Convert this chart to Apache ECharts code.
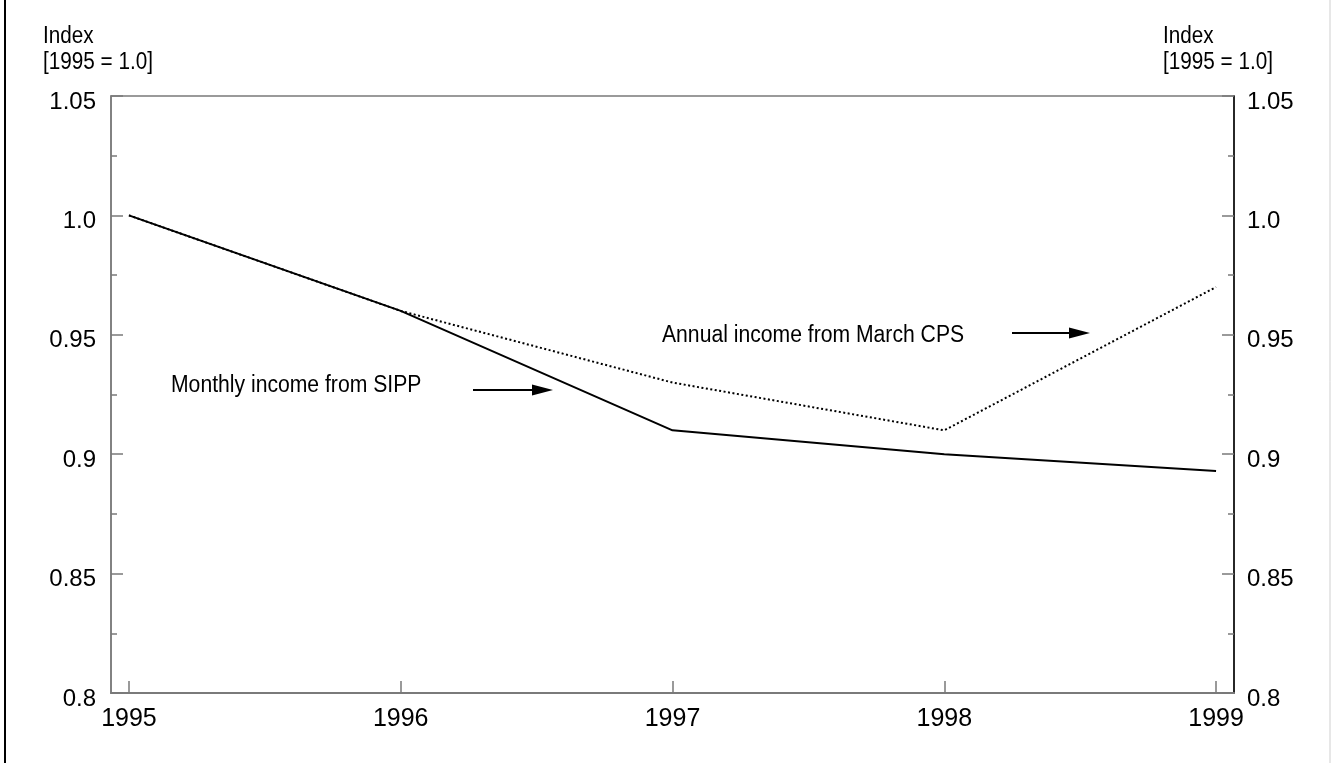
<!DOCTYPE html>
<html>
<head>
<meta charset="utf-8">
<style>
  html, body { margin: 0; padding: 0; background: #fff; }
  #chart { width: 1331px; height: 763px; }
</style>
<script src="https://cdn.jsdelivr.net/npm/echarts@6/dist/echarts.min.js"></script>
</head>
<body>
<div id="chart"></div>
<script>
// Income index, 1995 = 1.0
const years = [1995, 1996, 1997, 1998, 1999];
const sippMonthly = [1.0, 0.96, 0.91, 0.90, 0.893];
const cpsAnnual = [1.0, 0.96, 0.93, 0.91, 0.97];
const yTicks = [0.8, 0.85, 0.9, 0.95, 1.0, 1.05];
const axisTitle = ['Index', '[1995 = 1.0]'];
const sippLabel = 'Monthly income from SIPP';
const cpsLabel = 'Annual income from March CPS';

const FONT = '"Liberation Sans", Arial, sans-serif';
const GRAY = '#7a7a7a';

function fmtY(v) {
  const s = String(Number(v.toFixed(2)));
  return '{v|' + (s === '1' ? '1.0' : s) + '}';
}

function yAxisDef(pos, lineColor) {
  return {
    type: 'value',
    position: pos,
    min: yTicks[0],
    max: yTicks[yTicks.length - 1],
    interval: 0.05,
    axisLine: { show: true, lineStyle: { color: lineColor, width: 1.5 } },
    axisTick: { show: true, inside: true, length: 12, lineStyle: { color: GRAY, width: 1.5 } },
    minorTick: { show: true, splitNumber: 2, length: 6, lineStyle: { color: GRAY, width: 1.5 } },
    splitLine: { show: false },
    axisLabel: {
      margin: pos === 'left' ? 15 : 13,
      formatter: fmtY,
      rich: {
        v: { color: '#000', fontFamily: FONT, fontSize: 24, padding: [12, 0, 0, 0] }
      }
    }
  };
}

// arrow pointing right: shaft + filled head
function arrow(x0, x1, y) {
  return [
    { type: 'line', shape: { x1: x0, y1: y, x2: x1 - 16, y2: y }, style: { stroke: '#000', lineWidth: 2 } },
    { type: 'polygon', shape: { points: [[x1 - 21, y - 5.5], [x1, y], [x1 - 21, y + 5.5]] }, style: { fill: '#000' } }
  ];
}

// slightly condensed text block
function label(text, x, y, size, lh) {
  return {
    type: 'text', x: x, y: y, scaleX: 0.9,
    style: { text: text, font: size + 'px ' + FONT, fill: '#000', lineHeight: lh || size }
  };
}

const chart = echarts.init(document.getElementById('chart'), null, { renderer: 'canvas' });

chart.setOption({
  backgroundColor: '#fff',
  animation: false,
  grid: {
    left: 111, right: 97, top: 96, bottom: 70,
    show: true, borderColor: GRAY, borderWidth: 1.5, backgroundColor: 'transparent'
  },
  xAxis: {
    type: 'value',
    min: 1994.934,
    max: 1999.066,
    axisLine: { show: true, lineStyle: { color: GRAY, width: 2 } },
    axisTick: { show: true, inside: true, length: 12, customValues: years, lineStyle: { color: GRAY, width: 1.5 } },
    splitLine: { show: false },
    axisLabel: {
      customValues: years,
      color: '#000', fontFamily: FONT, fontSize: 25, margin: 14,
      formatter: v => String(Math.round(v))
    }
  },
  yAxis: [yAxisDef('left', GRAY), yAxisDef('right', '#000')],
  series: [
    {
      name: cpsLabel,
      type: 'line',
      data: years.map((y, i) => [y, cpsAnnual[i]]),
      symbol: 'none',
      lineStyle: { color: '#000', width: 2, type: [2, 2.5] },
      z: 2
    },
    {
      name: sippLabel,
      type: 'line',
      data: years.map((y, i) => [y, sippMonthly[i]]),
      symbol: 'none',
      lineStyle: { color: '#000', width: 2 },
      z: 3
    }
  ],
  graphic: [
    // page frame
    { type: 'line', shape: { x1: 5, y1: 0, x2: 5, y2: 763 }, style: { stroke: '#000', lineWidth: 2 } },
    { type: 'line', shape: { x1: 1330, y1: 0, x2: 1330, y2: 763 }, style: { stroke: '#cfcfcf', lineWidth: 1 } },
    // axis titles
    label(axisTitle.join('\n'), 43, 24, 23, 26),
    label(axisTitle.join('\n'), 1163, 24, 23, 26),
    // annotations
    label(sippLabel, 171, 374, 23.5),
    label(cpsLabel, 662, 324, 23.5),
    ...arrow(473, 553, 390),
    ...arrow(1012, 1090, 333)
  ]
});
</script>
</body>
</html>
